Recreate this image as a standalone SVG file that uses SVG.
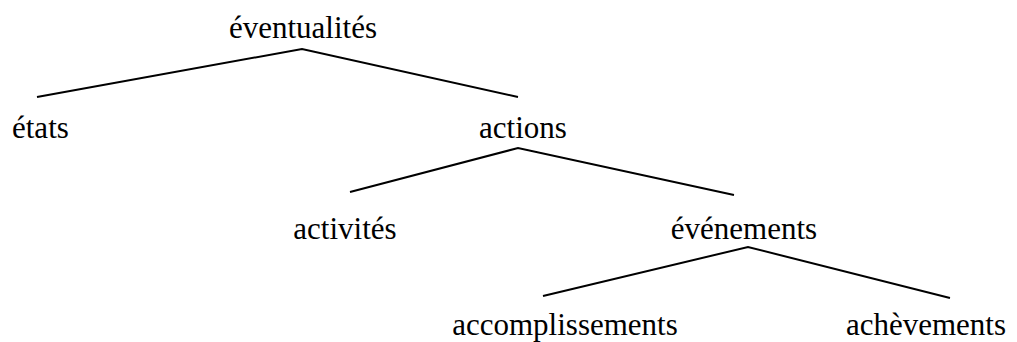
<svg xmlns="http://www.w3.org/2000/svg" width="1017" height="342" viewBox="0 0 1017 342">
  <style>
    .label { font-family: 'Liberation Serif', 'DejaVu Serif', 'Times New Roman', serif; font-size: 31px; fill: #000; }
    .edge { stroke: #000; stroke-width: 2; fill: none; stroke-linejoin: miter; }
  </style>
  <rect width="1017" height="342" fill="#fff"/>
  <!-- tree branches -->
  <g id="connectors">
    <polyline class="edge" points="37,97 302,49 518,97"/>
    <polyline class="edge" points="350,192 518,148 734,195"/>
    <polyline class="edge" points="543,296 748,247 950,298"/>
  </g>
  <g id="node-eventualites"><text class="label" x="303" y="38" text-anchor="middle">éventualités</text></g>
  <g id="node-etats"><text class="label" x="12" y="138">états</text></g>
  <g id="node-actions"><text class="label" x="523" y="138" text-anchor="middle">actions</text></g>
  <g id="node-activites"><text class="label" x="345" y="239" text-anchor="middle">activités</text></g>
  <g id="node-evenements"><text class="label" x="744" y="239" text-anchor="middle">événements</text></g>
  <g id="node-accomplissements"><text class="label" x="565" y="335" text-anchor="middle">accomplissements</text></g>
  <g id="node-achevements"><text class="label" x="926" y="335" text-anchor="middle">achèvements</text></g>
</svg>
